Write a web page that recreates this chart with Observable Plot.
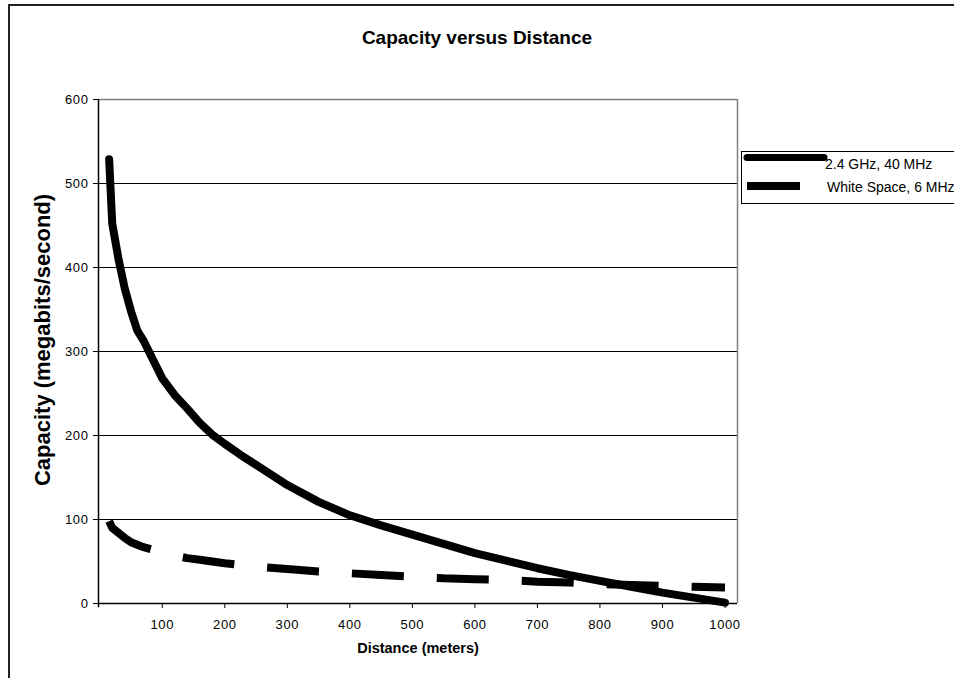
<!DOCTYPE html>
<html>
<head>
<meta charset="utf-8">
<script src="https://cdn.jsdelivr.net/npm/d3@7"></script>
<script src="https://cdn.jsdelivr.net/npm/@observablehq/plot@0.6"></script>
<style>
  html, body { margin: 0; padding: 0; background: #fff; }
  #wrap { position: relative; width: 954px; height: 678px; overflow: hidden; font-family: "Liberation Sans", Arial, sans-serif; }
  #frameL { position: absolute; left: 8px; top: 4px; width: 2px; height: 700px; background: #222; }
  #frameT { position: absolute; left: 8px; top: 4px; width: 960px; height: 2px; background: #222; }
  .title { position: absolute; left: 0; width: 954px; top: 27px; text-align: center; font-weight: bold; font-size: 19px; color: #000; }
  .xlabel { position: absolute; left: 268px; width: 300px; top: 640px; text-align: center; font-weight: bold; font-size: 14.5px; color: #000; }
  .ylabel { position: absolute; left: 43px; top: 340px; width: 0; height: 0; }
  .ylabel span { position: absolute; transform: translate(-50%, -50%) rotate(-90deg); white-space: nowrap; font-weight: bold; font-size: 22px; color: #000; }
  #legend { position: absolute; left: 741px; top: 151px; width: 230px; height: 51px; border: 1px solid #000; background: #fff; }
  #legend svg { position: absolute; left: 0; top: 0; }
  #plot { position: absolute; left: 0; top: 0; }
</style>
</head>
<body>
<div id="wrap">
  <div id="frameL"></div>
  <div id="frameT"></div>
  <div id="plot"></div>
  <div class="title">Capacity versus Distance</div>
  <div class="ylabel"><span>Capacity (megabits/second)</span></div>
  <div class="xlabel">Distance (meters)</div>
  <div id="legend"></div>
</div>
<script>
// Distance (meters)
const distance = [15, 20, 30, 40, 50, 60, 70, 80, 90, 100, 120, 140, 160, 180, 200, 225, 250, 300, 350, 400, 450, 500, 550, 600, 650, 700, 750, 800, 850, 900, 950, 1000];
// Capacity (megabits/second)
const cap24 = [529, 452, 410, 375, 348, 325, 313, 298, 283, 268, 248, 232, 215, 201, 190, 177, 165, 141, 121, 105, 93, 82, 71, 60, 51, 42, 34, 27, 20, 13, 7, 1];
const capWS = [98, 90, 84, 78, 73, 70, 67, 65, 63, 61, 57, 54, 52, 50, 48, 46, 44, 41, 38, 36, 34, 32, 30, 29, 28, 26, 25, 23, 22, 21, 20, 19];
const seriesNames = ["2.4 GHz, 40 MHz", "White Space, 6 MHz"];
const xTicks = [100, 200, 300, 400, 500, 600, 700, 800, 900, 1000];
const yTicks = [0, 100, 200, 300, 400, 500, 600];
const gridValues = [100, 200, 300, 400, 500];

const solid = distance.map((d, i) => ({distance: d, capacity: cap24[i]}));
const dashed = distance.map((d, i) => ({distance: d, capacity: capWS[i]}));

const xMin = -2, xMax = 1020;

const chart = Plot.plot({
  width: 954,
  height: 678,
  marginLeft: 98,
  marginRight: 217,
  marginTop: 99,
  marginBottom: 75,
  style: {fontFamily: "'Liberation Sans', Arial, sans-serif", fontSize: "13px", letterSpacing: "0.6px", background: "transparent", overflow: "visible"},
  x: {domain: [xMin, xMax]},
  y: {domain: [0, 600]},
  marks: [
    Plot.ruleY(gridValues, {stroke: "#000", strokeWidth: 1}),
    Plot.ruleY([600], {stroke: "#808080", strokeWidth: 1.5}),
    Plot.ruleX([xMax], {y1: 0, y2: 600, stroke: "#808080", strokeWidth: 1.5}),
    Plot.ruleY([0], {stroke: "#000", strokeWidth: 1.5}),
    Plot.ruleX([xMin], {y1: -5, y2: 600, stroke: "#000", strokeWidth: 1.5}),
    Plot.axisX({ticks: xTicks, tickSize: 5, tickPadding: 11, label: null, stroke: "#000", fill: "#000", tickFormat: d => String(d)}),
    Plot.axisY({ticks: yTicks, tickSize: 5, tickPadding: 5, label: null, stroke: "#000", fill: "#000", tickFormat: d => String(d)}),
    Plot.line(dashed, {x: "distance", y: "capacity", stroke: "#000", strokeWidth: 8, strokeDasharray: "52,33", strokeLinecap: "butt", strokeLinejoin: "round", curve: "linear"}),
    Plot.line(solid, {x: "distance", y: "capacity", stroke: "#000", strokeWidth: 8, strokeLinecap: "round", strokeLinejoin: "round", curve: "linear"})
  ]
});
document.getElementById("plot").appendChild(chart);

// Legend
const legend = d3.select("#legend").append("svg").attr("width", 230).attr("height", 52);
legend.append("line").attr("x1", 5).attr("x2", 82).attr("y1", 5.5).attr("y2", 5.5)
  .attr("stroke", "#000").attr("stroke-width", 7).attr("stroke-linecap", "round");
legend.append("line").attr("x1", 5).attr("x2", 58).attr("y1", 34).attr("y2", 34)
  .attr("stroke", "#000").attr("stroke-width", 8).attr("stroke-linecap", "butt");
legend.append("text").attr("x", 83).attr("y", 17).text(seriesNames[0])
  .attr("font-size", 14).attr("font-family", "'Liberation Sans', Arial, sans-serif").attr("fill", "#000");
legend.append("text").attr("x", 85).attr("y", 40).text(seriesNames[1])
  .attr("font-size", 14).attr("font-family", "'Liberation Sans', Arial, sans-serif").attr("fill", "#000");
</script>
</body>
</html>
